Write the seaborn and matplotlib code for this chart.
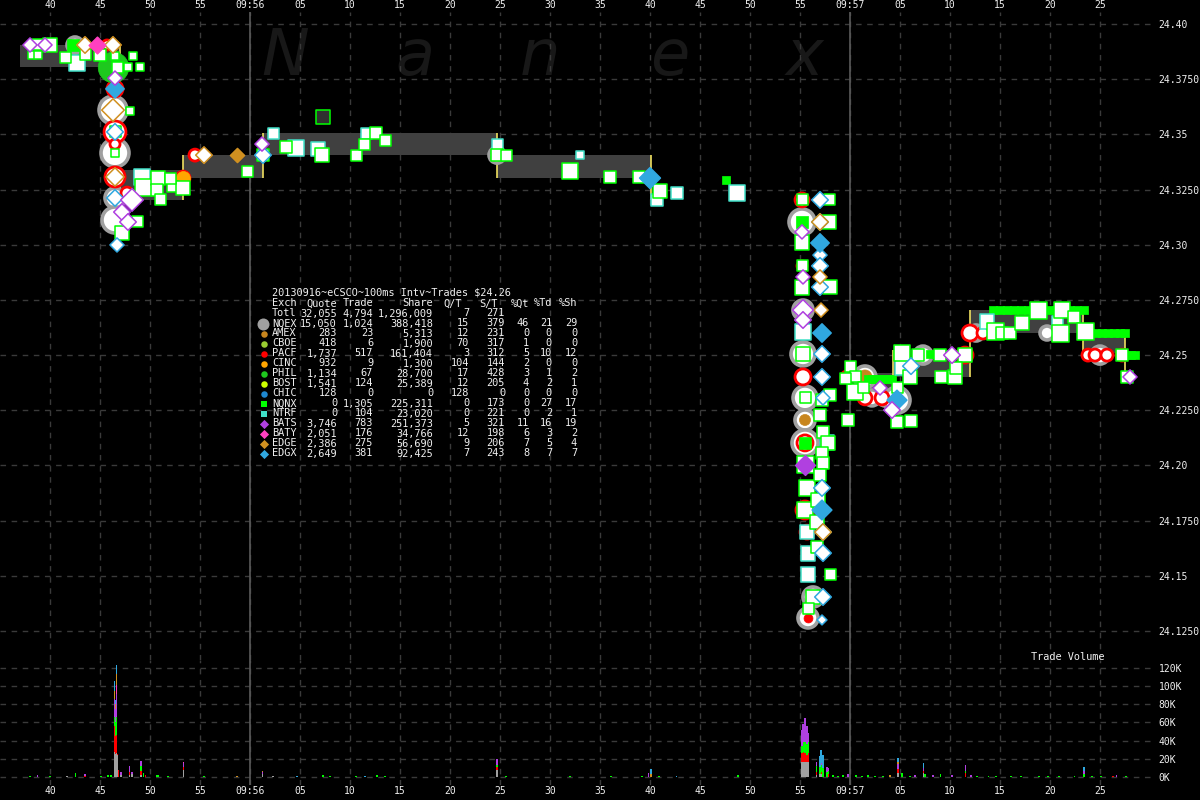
import numpy as np
import pandas as pd
import seaborn as sns
import matplotlib
matplotlib.use("Agg")
import matplotlib.pyplot as plt

# ====================== DATA ======================
# time = seconds after 09:55:00, price in $
band_t = [37.0, 47.0, 53.3, 61.3, 84.7, 100.1, 115.2, 120.0, 124.3, 132.0, 143.3, 147.5, 148.0]
band_ask = [24.3905, 24.3339, 24.3406, 24.3506, 24.3406, 24.3302, np.nan, 24.2419, 24.2523, 24.2704, 24.2600, 24.2509, np.nan]
band_bid = [24.3805, 24.3203, 24.3302, 24.3406, 24.3302, 24.3203, np.nan, 24.2296, 24.2401, 24.2600, 24.2509, 24.2420, np.nan]

# NQNX trades (white squares, green edge)
nqnx_t = [38.7, 40.0, 38.2, 38.8, 41.5, 43.5, 45.0, 46.5, 48.3, 47.8, 49.0, 46.7, 48.0, 46.5, 46.5, 48.7, 47.2,
          49.3, 50.8, 50.7, 51.0, 52.2, 53.3, 52.0, 59.7, 61.3, 63.6, 67.2, 70.6, 71.4, 72.6, 73.5, 84.7, 85.6,
          92.0, 96.0, 98.9, 100.0, 101.0,
          115.2, 117.9, 117.9, 115.2, 115.2, 118.0, 115.2, 115.3, 115.5, 115.7, 115.5, 116.8, 118.0, 116.3,
          115.8, 115.5, 117.3, 117.8, 117.2, 117.3, 117.0, 116.7, 116.7, 117.2, 117.0, 118.0,
          120.0, 120.5, 120.5, 121.3, 124.7, 124.7, 126.1, 125.2, 126.0, 126.8, 129.0, 131.5, 129.1, 130.5,
          130.6, 134.5, 135.2, 136.0, 137.2, 138.8, 141.2, 142.4, 141.0, 143.5, 147.2, 147.7, 119.5, 119.8]
nqnx_p = [24.3905, 24.3905, 24.3860, 24.3860, 24.3850, 24.3860, 24.3860, 24.3855, 24.3855, 24.3805, 24.3805,
          24.3805, 24.3606, 24.3511, 24.3416, 24.3103, 24.3053, 24.3257, 24.3302, 24.3248, 24.3203, 24.3262,
          24.3257, 24.3302, 24.3334, 24.3406, 24.3443, 24.3406, 24.3406, 24.3456, 24.3506, 24.3474, 24.3406,
          24.3406, 24.3334, 24.3307, 24.3307, 24.3302, 24.3243,
          24.3203, 24.3203, 24.3103, 24.3008, 24.2904, 24.2808, 24.2808, 24.2505, 24.2306, 24.1898, 24.1798,
          24.1843, 24.1504, 24.1404, 24.1354, 24.2002, 24.2152, 24.2102, 24.2056, 24.2011, 24.1957, 24.1743,
          24.1630, 24.2296, 24.2229, 24.2319,
          24.2446, 24.2401, 24.2333, 24.2351, 24.2355, 24.2197, 24.2201, 24.2509, 24.2401, 24.2500, 24.2500,
          24.2500, 24.2401, 24.2401, 24.2442, 24.2609, 24.2600, 24.2600, 24.2645, 24.2704, 24.2704, 24.2673,
          24.2600, 24.2605, 24.2500, 24.2401, 24.2396, 24.2206]
nqnx_sh = [200, 400, 100, 100, 200, 200, 300, 100, 100, 100, 100, 200, 100, 200, 100, 200, 400, 800, 400, 300,
           200, 200, 400, 200, 200, 300, 300, 400, 200, 200, 300, 200, 300, 200, 600, 300, 300, 100, 400,
           200, 200, 400, 500, 200, 400, 500, 400, 200, 600, 600, 400, 200, 400, 200, 800, 300, 400, 300, 300,
           300, 400, 300, 300, 300, 300,
           200, 200, 600, 200, 200, 300, 300, 600, 400, 300, 300, 400, 300, 400, 300, 800, 300, 300, 400, 800,
           600, 300, 800, 800, 300, 300, 200, 300]

# NQNX odd prints (solid green)
solid_t = [42.3, 107.6, 115.2, 115.5, 121.8, 122.2, 122.6, 123.0, 123.4, 123.8, 124.2, 128.0, 128.6, 129.2,
           129.7, 134.3, 135.0, 135.7, 136.4, 137.1, 137.8, 138.5, 139.2, 139.9, 140.6, 141.3, 142.0, 142.7,
           143.4, 144.0, 144.6, 145.2, 145.8, 146.4, 147.0, 147.5, 147.6, 148.1, 148.5]
solid_p = [24.3905, 24.3293, 24.3103, 24.2102] + [24.2392] * 7 + [24.2505] * 4 + [24.2704] * 14 \
          + [24.2600] * 7 + [24.2500] * 3
solid_sh = [300, 100, 300, 300] + [100] * 35

# NTRF trades
ntrf_t = [42.7, 49.2, 62.3, 64.6, 66.8, 71.6, 84.7, 93.0, 100.7, 102.7, 108.7, 115.3, 115.7, 115.8, 115.8,
          125.3, 133.7, 140.7, 117.7]
ntrf_p = [24.3823, 24.3307, 24.3506, 24.3438, 24.3434, 24.3506, 24.3456, 24.3406, 24.3203, 24.3234, 24.3234,
          24.2605, 24.1698, 24.1603, 24.1504, 24.2446, 24.2650, 24.2654, 24.2102]
ntrf_sh = [600, 600, 200, 600, 400, 200, 200, 100, 300, 300, 600, 600, 400, 500, 500, 600, 500, 200, 500]

# NQEX quotes (gray rings)
nqex_t = [42.5, 46.3, 46.5, 46.5, 46.5, 84.7, 115.2, 115.3, 115.3, 115.5, 115.5, 115.5, 116.3, 115.8, 121.5,
          122.2, 123.5, 124.7, 127.3, 132.6, 139.7, 145.0]
nqex_p = [24.3905, 24.3610, 24.3416, 24.3212, 24.3112, 24.3406, 24.3103, 24.2704, 24.2505, 24.2306, 24.2206,
          24.2102, 24.1404, 24.1309, 24.2401, 24.2306, 24.2306, 24.2296, 24.2500, 24.2600, 24.2600, 24.2500]
nqex_sh = [400, 2100, 2100, 700, 1600, 400, 1600, 700, 1200, 1200, 700, 1600, 700, 700, 900, 400, 400, 1600,
           530, 400, 300, 530]

# PACF quotes (red rings)
pacf_t = [45.7, 46.3, 46.5, 46.5, 46.5, 46.5, 47.7, 49.5, 53.3, 54.5, 115.2, 115.2, 115.3, 115.5, 115.5, 115.7,
          115.8, 119.7, 121.5, 123.2, 131.5, 132.0, 133.3, 143.8, 144.5, 145.7, 147.2]
pacf_p = [24.3905, 24.3805, 24.3706, 24.3511, 24.3456, 24.3307, 24.3234, 24.3307, 24.3302, 24.3406, 24.3203,
          24.2904, 24.2401, 24.2102, 24.1798, 24.1698, 24.1603, 24.2401, 24.2306, 24.2306, 24.2500, 24.2600,
          24.2600, 24.2500, 24.2500, 24.2500, 24.2500]
pacf_sh = [175, 230, 400, 900, 175, 700, 230, 230, 300, 230, 300, 175, 400, 400, 530, 300, 230, 230, 300, 300,
           400, 400, 230, 230, 230, 230, 230]

# other exchanges, filled circles
dot_ex = ["PHIL", "CINC", "CBOE", "AMEX", "AMEX", "PACF"]
dot_t = [46.3, 53.3, 61.3, 115.5, 121.5, 115.8]
dot_p = [24.3805, 24.3302, 24.3406, 24.2206, 24.2401, 24.1309]
dot_sh = [3000, 300, 200, 200, 300, 150]

# diamonds: kind 1 = trade (filled), 0 = quote (outline)
edgx_t = [46.5, 100.0, 117.0, 117.2, 117.2, 124.7, 46.3, 46.5, 46.5, 46.7, 61.3, 117.0, 117.0, 117.0, 117.0,
          117.0, 117.2, 117.2, 117.3, 117.2, 117.3, 117.3, 117.3, 117.2, 126.1]
edgx_p = [24.3706, 24.3302, 24.3008, 24.2600, 24.1798, 24.2296, 24.3610, 24.3511, 24.3212, 24.2999, 24.3406,
          24.3203, 24.3103, 24.2953, 24.2904, 24.2808, 24.2505, 24.2401, 24.2306, 24.1898, 24.1698, 24.1603,
          24.1404, 24.1300, 24.2450]
edgx_sh = [400, 600, 400, 400, 500, 500, 300, 300, 300, 200, 300, 300, 300, 200, 300, 300, 300, 300, 200, 300,
           300, 300, 300, 100, 300]
edgx_kind = [1, 1, 1, 1, 1, 1] + [0] * 19

edge_t = [58.7, 43.5, 46.3, 46.3, 46.5, 55.4, 117.0, 117.1, 117.3, 117.0]
edge_p = [24.3406, 24.3905, 24.3905, 24.3610, 24.3307, 24.3406, 24.2854, 24.2704, 24.1698, 24.3103]
edge_sh = [200, 300, 300, 800, 400, 300, 200, 200, 300, 300]
edge_kind = [1, 0, 0, 0, 0, 0, 0, 0, 0, 0]

bats_t = [115.5, 38.0, 39.5, 48.2, 47.2, 47.8, 61.2, 115.2, 115.3, 115.3, 115.3, 124.2, 123.0, 130.2, 148.0, 46.5]
bats_p = [24.2002, 24.3905, 24.3905, 24.3203, 24.3148, 24.3103, 24.3456, 24.3058, 24.2854, 24.2704, 24.2659,
          24.2251, 24.2351, 24.2500, 24.2401, 24.3755]
bats_sh = [500, 200, 200, 800, 300, 300, 200, 200, 200, 600, 300, 300, 200, 300, 200, 200]
bats_kind = [1] + [0] * 15

baty_t = [44.7]
baty_p = [24.3905]
baty_sh = [300]
baty_kind = [1]

dark_t = [67.3]
dark_p = [24.3579]

# trade volume (thousand shares) per exchange
vol_nqex_t = [41.7, 46.45, 46.55, 46.63, 46.75, 47.1, 47.94, 48.2, 49.12, 53.33, 61.25, 62.3, 84.7, 115.17,
              115.29, 115.47, 115.67, 115.86, 116.66, 117.0, 117.12, 124.77, 127.34]
vol_nqex_k = [1, 28, 25, 26, 24, 2, 2, 3, 2, 8, 3, 1, 8, 16, 16, 16, 16, 16, 2, 3, 3, 4, 4]
vol_pacf_t = [43.5, 46.45, 46.55, 46.63, 46.75, 46.85, 47.94, 49.12, 49.54, 53.33, 84.7, 115.17, 115.29,
              115.47, 115.67, 115.86, 116.66, 117.12, 117.85, 124.77, 127.34, 131.55, 146.3]
vol_pacf_k = [1.5, 28, 20, 20, 1, 8, 4, 5, 2, 3, 3, 10, 12, 10, 8, 10, 3, 2, 3, 5, 3, 4, 1]
vol_nqnx_t = [38.0, 40.0, 42.54, 45.1, 45.8, 46.1, 46.45, 46.55, 46.63, 49.12, 49.35, 50.7, 50.8, 51.8, 55.4,
              67.3, 68.0, 70.6, 72.7, 73.5, 84.7, 85.6, 92.0, 96.1, 99.2, 100.9, 108.8, 115.17, 115.29, 115.47,
              115.67, 115.86, 116.66, 117.0, 117.12, 117.31, 117.7, 117.85, 118.3, 118.8, 119.3, 120.6, 121.2,
              121.8, 122.5, 123.3, 125.2, 126.0, 127.5, 129.06, 131.55, 132.7, 133.84, 134.6, 136.1, 137.1,
              138.9, 139.8, 140.9, 142.46, 143.4, 144.18, 145.1, 147.6]
vol_nqnx_k = [1, 1, 4, 1, 2, 2, 10, 15, 20, 5, 4, 2, 2, 1, 1, 2, 1, 1, 2, 1, 2, 1, 1, 1, 1, 1, 2, 8, 10, 12,
              12, 12, 7, 8, 8, 10, 6, 4, 2, 1.5, 2, 2, 1.5, 2, 1, 1.5, 4, 1, 3, 3, 3, 1, 1, 1, 1, 1, 1.5, 1, 1,
              1, 3, 1.5, 1, 1]
vol_bats_t = [38.75, 43.5, 46.45, 46.55, 46.63, 47.1, 47.94, 48.2, 49.12, 53.33, 61.25, 84.7, 99.86, 115.17,
              115.29, 115.47, 115.67, 115.86, 116.66, 117.12, 117.7, 117.85, 119.8, 124.77, 126.5, 127.34,
              128.3, 130.2, 131.55, 132.1, 143.4, 146.66]
vol_bats_k = [2, 1.5, 20, 15, 25, 4, 6, 3, 6, 4, 2, 7, 4, 18, 20, 27, 20, 10, 5, 2, 5, 3, 3, 5, 2, 3, 2, 2,
              6.5, 2, 4, 2]
vol_baty_t = [46.63, 53.33]
vol_baty_k = [10, 2]
vol_edge_t = [46.45, 46.55, 46.63, 58.7, 61.25, 100.1, 124.0, 124.77]
vol_edge_k = [9, 5, 12, 1, 2, 3, 2, 3]
vol_edgx_t = [46.45, 46.55, 46.63, 64.7, 71.5, 93.0, 100.1, 102.65, 117.0, 117.12, 117.31, 124.77, 127.34, 143.4]
vol_edgx_k = [11, 5, 10, 1, 1, 0.5, 6, 1, 12, 15, 14, 4, 5, 3.6]

# summary table
tbl_title = "20130916~eCSCO~100ms Intv~Trades $24.26"
tbl_exch = ["Totl", "NQEX", "AMEX", "CBOE", "PACF", "CINC", "PHIL", "BOST", "CHIC", "NQNX", "NTRF", "BATS",
            "BATY", "EDGE", "EDGX"]
tbl_quote = [32055, 15050, 283, 418, 1737, 932, 1134, 1541, 128, 0, 0, 3746, 2051, 2386, 2649]
tbl_trade = [4794, 1024, 23, 6, 517, 9, 67, 124, 0, 1305, 104, 783, 176, 275, 381]
tbl_share = [1296009, 388418, 5313, 1900, 161404, 1300, 28700, 25389, 0, 225311, 23020, 251373, 34766, 56690,
             92425]
tbl_qt = [7, 15, 12, 70, 3, 104, 17, 12, 128, 0, 0, 5, 12, 9, 7]
tbl_st = [271, 379, 231, 317, 312, 144, 428, 205, 0, 173, 221, 321, 198, 206, 243]
tbl_pq = [None, 46, 0, 1, 5, 2, 3, 4, 0, 0, 0, 11, 6, 7, 8]
tbl_pt = [None, 21, 0, 0, 10, 0, 1, 2, 0, 27, 2, 16, 3, 5, 7]
tbl_ps = [None, 29, 0, 0, 12, 0, 2, 1, 0, 17, 1, 19, 2, 4, 7]

ex_color = {"NQEX": "#a0a0a0", "AMEX": "#c8861e", "CBOE": "#9acd32", "PACF": "#ff0000", "CINC": "#ffa500",
            "PHIL": "#1ec81e", "BOST": "#ccff00", "CHIC": "#1e88d0", "NQNX": "#00ff00", "NTRF": "#40e0c8",
            "BATS": "#b040e0", "BATY": "#ff40c0", "EDGE": "#d09020", "EDGX": "#30a8e0"}
ex_marker = {"NQNX": "s", "NTRF": "s", "BATS": "D", "BATY": "D", "EDGE": "D", "EDGX": "D"}

# ====================== STYLE ======================
sns.set_style("dark", {"axes.facecolor": "black", "figure.facecolor": "black"})
plt.rcParams["font.family"] = ["DejaVu Sans Mono"]
GRID = "#3a3a3a"
TXT = "#f0f0f0"


def area(d_px):
    return (np.asarray(d_px) * 0.72) ** 2


def sq_size(sh):
    return area(8 + 3 * np.log2(np.asarray(sh, float) / 100))


def ring_size(sh):
    return area(6 + 5 * np.log2(np.asarray(sh, float) / 100))


def dia_size(sh):
    return area(7 + 3 * np.log2(np.asarray(sh, float) / 100))


fig = plt.figure(figsize=(12, 8), dpi=100)
ax = fig.add_axes([0, 0.175, 0.9625, 0.81])
axv = fig.add_axes([0, 0.01875, 0.9625, 0.15625])

xt = list(range(40, 150, 5))
xl = ["09:%02d" % (55 + t // 60) if t % 60 == 0 else "%02d" % (t % 60) for t in xt]
for a in (ax, axv):
    a.set_facecolor("black")
    a.set_xlim(35, 150.5)
    a.set_xticks(xt)
    a.grid(True, color=GRID, linestyle=(0, (4, 4)), linewidth=1)
    a.set_axisbelow(True)
    for s in a.spines.values():
        s.set_visible(False)
    a.axvline(60, color="#5a5a5a", lw=1.2, zorder=0.8)
    a.axvline(120, color="#5a5a5a", lw=1.2, zorder=0.8)
    a.yaxis.tick_right()
    a.tick_params(colors=TXT, labelsize=7, length=0, pad=2.5)

ax.tick_params(axis="x", top=True, labeltop=True, bottom=False, labelbottom=False, pad=1.5)
ax.set_xticklabels(xl)
axv.tick_params(axis="x", pad=1)
axv.set_xticklabels(xl)

yt = [24.125 + 0.025 * i for i in range(12)]
ax.set_yticks(yt)
ax.set_yticklabels(["%.2f" % v if abs(v * 20 - round(v * 20)) < 1e-6 else "%.4f" % v for v in yt])
ax.set_ylim(24.11185, 24.40544)

# watermark
for ch, xp in zip("Nanex", [285, 415, 540, 670, 805]):
    ax.text(xp / 1200, 1 - 75 / 800, ch, transform=fig.transFigure, ha="center", va="baseline",
            fontsize=46, style="italic", family="DejaVu Sans", color="#181818", zorder=0.5)

# NBBO band
ax.fill_between(band_t, band_bid, band_ask, step="post", color="#404040", lw=0, zorder=1)
for i in range(1, len(band_t)):
    if np.isnan(band_ask[i]) or np.isnan(band_ask[i - 1]):
        continue
    ax.vlines(band_t[i], min(band_bid[i], band_bid[i - 1]), max(band_ask[i], band_ask[i - 1]),
              color="#f0e060", lw=1.2, zorder=1.5)

# quote rings
sns.scatterplot(x=nqex_t, y=nqex_p, s=ring_size(nqex_sh), marker="o", color="white",
                edgecolor=ex_color["NQEX"], linewidth=2.6, ax=ax, zorder=3, legend=False)
sns.scatterplot(x=pacf_t, y=pacf_p, s=ring_size(pacf_sh), marker="o", color="white",
                edgecolor=ex_color["PACF"], linewidth=2.0, ax=ax, zorder=3.5, legend=False)
dot_df = pd.DataFrame({"t": dot_t, "p": dot_p, "ex": dot_ex, "sh": dot_sh})
for ex, g in dot_df.groupby("ex"):
    sns.scatterplot(data=g, x="t", y="p", s=ring_size(g["sh"]), marker="o", color=ex_color[ex],
                    edgecolor=ex_color[ex], linewidth=0.5, ax=ax, zorder=3.6, legend=False)

# trades as squares
sns.scatterplot(x=solid_t, y=solid_p, s=sq_size(solid_sh), marker="s", color=ex_color["NQNX"],
                edgecolor=ex_color["NQNX"], linewidth=0.5, ax=ax, zorder=4, legend=False)
sns.scatterplot(x=ntrf_t, y=ntrf_p, s=sq_size(ntrf_sh), marker="s", color="white",
                edgecolor=ex_color["NTRF"], linewidth=1.1, ax=ax, zorder=4.2, legend=False)
sns.scatterplot(x=nqnx_t, y=nqnx_p, s=sq_size(nqnx_sh), marker="s", color="white",
                edgecolor=ex_color["NQNX"], linewidth=1.1, ax=ax, zorder=4.4, legend=False)
sns.scatterplot(x=dark_t, y=dark_p, s=area(14), marker="s", color="#303030",
                edgecolor=ex_color["NQNX"], linewidth=1.1, ax=ax, zorder=4.4, legend=False)

# diamonds
for ex, tt, pp, sh, kd in [("EDGX", edgx_t, edgx_p, edgx_sh, edgx_kind), ("EDGE", edge_t, edge_p, edge_sh, edge_kind),
                           ("BATS", bats_t, bats_p, bats_sh, bats_kind), ("BATY", baty_t, baty_p, baty_sh, baty_kind)]:
    df = pd.DataFrame({"t": tt, "p": pp, "sh": sh, "kind": kd})
    for k, g in df.groupby("kind"):
        face = ex_color[ex] if k == 1 else "white"
        sns.scatterplot(data=g, x="t", y="p", s=dia_size(g["sh"]), marker="D", color=face,
                        edgecolor=ex_color[ex], linewidth=1.1, ax=ax, zorder=5, legend=False)

ax.set_xlabel("")
ax.set_ylabel("")

# volume bars
vol_df = pd.concat([
    pd.DataFrame({"t": vol_nqex_t, "k": vol_nqex_k, "ex": "NQEX"}),
    pd.DataFrame({"t": vol_pacf_t, "k": vol_pacf_k, "ex": "PACF"}),
    pd.DataFrame({"t": vol_nqnx_t, "k": vol_nqnx_k, "ex": "NQNX"}),
    pd.DataFrame({"t": vol_bats_t, "k": vol_bats_k, "ex": "BATS"}),
    pd.DataFrame({"t": vol_baty_t, "k": vol_baty_k, "ex": "BATY"}),
    pd.DataFrame({"t": vol_edge_t, "k": vol_edge_k, "ex": "EDGE"}),
    pd.DataFrame({"t": vol_edgx_t, "k": vol_edgx_k, "ex": "EDGX"}),
])
order = ["NQEX", "PACF", "NQNX", "BATS", "BATY", "EDGE", "EDGX"]
wide = vol_df.pivot_table(index="t", columns="ex", values="k", aggfunc="sum").reindex(columns=order).fillna(0)
bottom = np.zeros(len(wide))
for ex in order:
    axv.bar(wide.index, wide[ex], width=0.16, bottom=bottom, color=ex_color[ex], linewidth=0, zorder=2)
    bottom += wide[ex].values

vt = list(range(0, 121, 20))
axv.set_yticks(vt)
axv.set_yticklabels(["%dK" % v for v in vt])
axv.set_ylim(-8.8, 128.6)

# overlay for table text (pixel coords)
ov = fig.add_axes([0, 0, 1, 1], facecolor="none")
ov.set_xlim(0, 1200)
ov.set_ylim(800, 0)
ov.axis("off")

fs = 7.4
ov.text(272, 292.5, tbl_title, color=TXT, fontsize=fs, va="center", ha="left")
hdr = [("Exch", 272, "left"), ("Quote", 337, "right"), ("Trade", 373, "right"), ("Share", 433, "right"),
       ("Q/T", 462, "right"), ("S/T", 498, "right"), ("%Qt", 529, "right"), ("%Td", 552, "right"),
       ("%Sh", 577, "right")]
for s, xp, ha in hdr:
    ov.text(xp, 303.5, s, color=TXT, fontsize=fs, va="center", ha=ha)
cols_x = [337, 373, 433, 469, 505, 529, 552, 577]
for i, name in enumerate(tbl_exch):
    yp = 313.5 + 10 * i
    ov.text(272, yp, name, color=TXT, fontsize=fs, va="center", ha="left")
    vals = ["{:,}".format(tbl_quote[i]), "{:,}".format(tbl_trade[i]), "{:,}".format(tbl_share[i]),
            str(tbl_qt[i]), str(tbl_st[i]), tbl_pq[i], tbl_pt[i], tbl_ps[i]]
    for v, xp in zip(vals, cols_x):
        if v is None:
            continue
        ov.text(xp, yp, str(v), color=TXT, fontsize=fs, va="center", ha="right")
    if name in ex_color:
        mk = ex_marker.get(name, "o")
        d = 12 if name == "NQEX" else 6.5
        ov.scatter([264 if name != "NQEX" else 262.5], [yp], s=area(d), marker=mk, color=ex_color[name],
                   linewidths=0)

ov.text(1068, 657.5, "Trade Volume", color=TXT, fontsize=fs, va="center", ha="center")

plt.savefig("out.png", dpi=100, facecolor="black")
